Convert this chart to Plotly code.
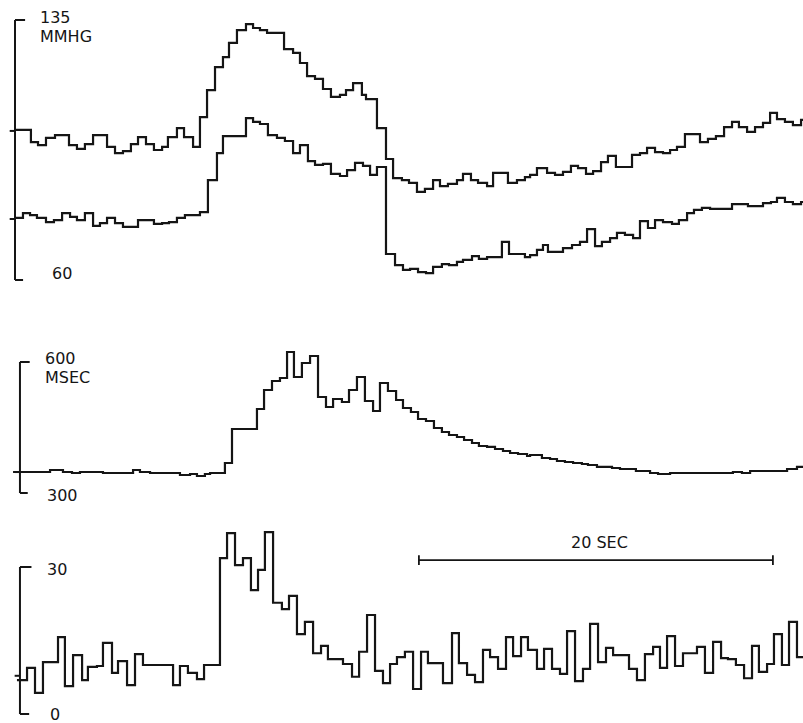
import plotly.graph_objects as go

# ---------------- data (time in seconds) ----------------
END_TIME = 44.52

sys_t = [0.0, 0.90, 1.30, 1.75, 2.26, 3.05, 3.50, 3.95, 4.41, 5.20, 5.65, 6.10, 6.55, 6.95, 7.40, 7.85,
         8.31, 8.64, 9.15, 9.55, 10.06, 10.45, 10.85, 11.30, 11.75, 12.09, 12.54, 13.05, 13.45, 13.84,
         14.24, 15.20, 15.71, 16.10, 16.50, 16.95, 17.40, 17.85, 18.36, 18.70, 19.10, 19.60, 19.83,
         20.45, 20.96, 21.36, 21.86, 22.26, 22.71, 23.16, 23.62, 24.01, 24.46, 24.97, 25.31, 25.76,
         26.16, 26.67, 27.01, 27.85, 28.36, 28.81, 29.10, 29.49, 30.06, 30.51, 30.96, 31.41, 31.81,
         32.26, 32.66, 33.11, 33.50, 33.95, 34.86, 35.31, 35.71, 36.16, 36.61, 37.01, 37.40, 37.85,
         38.70, 39.15, 39.60, 40.06, 40.51, 40.90, 41.36, 41.81, 42.26, 42.66, 43.05, 43.50, 43.95, 44.41]
sys_v = [103.3, 99.8, 98.9, 101.0, 101.8, 98.9, 97.8, 99.2, 101.8, 98.4, 96.6, 97.2, 99.2, 101.2, 99.2, 97.5,
         98.4, 101.2, 103.8, 101.2, 98.4, 107.0, 114.8, 121.4, 124.3, 128.4, 132.1, 133.8, 132.7, 132.1,
         131.3, 126.6, 125.5, 122.6, 118.8, 118.0, 115.1, 112.8, 113.4, 114.8, 116.8, 113.4, 112.2,
         103.8, 94.9, 89.4, 88.8, 88.0, 85.4, 86.3, 88.8, 87.1, 87.7, 88.8, 90.6, 88.8,
         88.0, 87.1, 90.9, 88.0, 88.8, 89.7, 90.3, 92.3, 90.9, 90.3, 91.2, 92.9, 92.3,
         90.6, 91.4, 94.0, 95.8, 92.6, 96.1, 96.6, 98.1, 96.9, 96.6, 97.5, 98.4, 102.1,
         99.8, 100.7, 101.5, 104.1, 105.6, 104.1, 102.7, 104.1, 105.3, 108.2, 106.4, 105.6, 104.7, 106.2]

dia_t = [0.0, 0.45, 0.85, 1.24, 1.75, 2.20, 2.66, 3.11, 3.50, 3.95, 4.41, 4.80, 5.20, 5.65, 6.10, 6.95,
         7.85, 8.31, 8.70, 9.15, 9.60, 10.45, 10.90, 11.41, 11.75, 13.05, 13.45, 13.84, 14.29, 14.80,
         15.25, 15.71, 16.10, 16.55, 16.95, 17.40, 17.85, 18.36, 18.76, 19.21, 19.66, 20.06, 20.45,
         20.96, 21.47, 21.92, 22.32, 22.77, 23.22, 23.62, 24.12, 24.52, 24.97, 25.31, 25.82, 26.21,
         26.67, 27.51, 27.91, 28.81, 29.10, 29.49, 29.83, 30.11, 30.96, 31.47, 31.92, 32.32, 32.77,
         33.16, 33.62, 34.01, 34.46, 34.92, 35.31, 35.76, 36.16, 36.61, 37.12, 37.51, 37.97, 38.36,
         38.81, 39.27, 40.51, 41.41, 42.26, 42.71, 43.05, 43.50, 43.95, 44.41]
dia_v = [77.9, 79.3, 78.7, 77.9, 76.7, 77.3, 79.3, 78.2, 77.3, 79.3, 75.6, 76.4, 77.9, 76.4, 75.3, 77.3,
         76.2, 76.4, 76.7, 77.9, 78.7, 79.6, 88.8, 96.6, 101.5, 106.7, 105.6, 105.0, 101.8, 101.0,
         100.1, 96.6, 98.9, 94.3, 93.2, 93.5, 90.6, 90.0, 91.7, 93.8, 92.9, 90.3, 92.6,
         67.5, 64.3, 62.9, 63.2, 62.3, 62.0, 63.8, 64.6, 64.3, 65.2, 65.8, 66.9, 66.1,
         66.6, 71.0, 67.5, 66.6, 67.2, 68.7, 70.1, 68.1, 69.2, 70.1, 71.0, 74.7, 69.8,
         71.0, 72.1, 73.6, 73.0, 72.1, 77.0, 75.0, 77.3, 76.7, 76.2, 77.3, 79.3, 80.2,
         80.8, 80.5, 81.9, 81.3, 82.2, 82.5, 83.7, 82.5, 81.9, 82.5]

rr_t = [-0.11, 1.98, 2.71, 3.22, 3.67, 4.97, 6.67, 7.06, 7.63, 9.32, 9.89, 10.28, 10.73, 11.02, 11.86,
        12.26, 13.67, 14.07, 14.52, 14.97, 15.37, 15.76, 16.21, 16.67, 17.12, 17.57, 17.97, 18.47,
        18.87, 19.32, 19.77, 20.23, 20.62, 21.07, 21.53, 21.92, 22.37, 22.77, 23.22, 23.67, 24.12,
        24.52, 24.97, 25.37, 25.82, 26.21, 26.67, 27.12, 27.57, 27.97, 28.42, 28.93, 29.10, 29.77,
        30.23, 30.62, 31.07, 31.53, 32.03, 32.37, 32.88, 33.73, 34.18, 35.08, 35.88, 36.33, 37.01,
        40.56, 41.07, 41.53, 43.62, 44.18]
rr_v = [348.1, 352.7, 348.1, 345.8, 348.1, 345.8, 352.7, 348.1, 345.8, 341.2, 343.5, 338.9, 343.5, 345.8, 368.7,
        446.6, 492.4, 535.9, 556.5, 563.4, 622.9, 565.6, 597.7, 613.7, 519.9, 496.9, 515.3, 508.4,
        535.9, 565.6, 510.7, 487.8, 551.9, 533.6, 513.0, 494.7, 485.5, 469.5, 464.9, 448.9, 439.7,
        432.8, 428.2, 421.4, 414.5, 407.6, 405.4, 400.8, 396.2, 391.6, 389.3, 384.7, 387.0, 380.2,
        377.9, 373.3, 371.0, 368.7, 366.4, 364.1, 359.6, 357.3, 355.0, 350.4, 345.8, 343.5, 345.8,
        348.1, 345.8, 350.4, 355.0, 359.6]

act_t = [0.11, 0.68, 1.13, 1.58, 2.43, 2.82, 3.28, 3.79, 4.12, 4.63, 4.97, 5.48, 5.82, 6.33, 6.78, 7.23,
         8.93, 9.32, 9.77, 10.28, 10.68, 11.58, 11.98, 12.43, 12.88, 13.33, 13.73, 14.12, 14.58,
         15.08, 15.48, 15.93, 16.38, 16.84, 17.29, 17.68, 18.53, 19.04, 19.44, 19.89, 20.34, 20.79,
         21.19, 21.58, 22.03, 22.49, 22.94, 23.33, 24.18, 24.69, 25.08, 25.54, 25.99, 26.44, 26.84,
         27.29, 27.74, 28.14, 28.59, 28.98, 29.49, 29.89, 30.34, 30.79, 31.19, 31.64, 32.09, 32.49,
         32.94, 33.39, 33.79, 34.69, 35.14, 35.59, 36.05, 36.44, 36.84, 37.29, 37.74, 38.53, 38.98,
         39.44, 39.89, 40.28, 40.73, 41.19, 41.64, 42.03, 42.49, 42.88, 43.33, 43.73, 44.18]
act_v = [6.9, 9.4, 4.3, 10.6, 15.7, 5.7, 12.0, 6.9, 9.6, 9.8, 14.5, 8.4, 10.8, 5.9, 12.2, 10.0,
         5.9, 9.8, 8.4, 7.1, 10.0, 31.8, 36.9, 30.4, 31.8, 25.3, 29.4, 37.1, 22.7,
         21.4, 24.1, 16.3, 18.8, 12.4, 13.9, 11.2, 10.2, 7.6, 12.7, 20.2, 8.8, 6.3,
         10.2, 11.6, 12.7, 5.1, 12.7, 10.4, 6.3, 16.5, 10.4, 8.0, 6.5, 13.1, 11.6,
         9.2, 15.7, 11.8, 15.7, 13.1, 9.2, 13.3, 9.2, 8.2, 16.9, 6.7, 9.2, 18.4,
         10.6, 13.5, 12.0, 9.2, 6.9, 12.2, 13.7, 9.4, 15.9, 9.8, 12.4, 13.7, 8.4,
         14.7, 11.4, 11.2, 10.0, 7.3, 13.9, 8.6, 10.2, 16.3, 10.0, 18.8, 11.6]

# axis calibration labels
P_TOP, P_BOT, P_UNIT = 135, 60, "MMHG"
P_BASE = [103.0, 77.6]
RR_TOP, RR_BOT, RR_UNIT = 600, 300, "MSEC"
RR_BASE = [348.0]
A_TOP, A_BOT = 30, 0
A_BASE = [7.8]
SCALE_START, SCALE_SEC, SCALE_LABEL = 22.82, 20, "20 SEC"

# ---------------- figure ----------------
INK = "#151515"
FONT = dict(family="DejaVu Sans", size=16, color=INK)


def ext(t, v):
    return list(t) + [END_TIME], list(v) + [v[-1]]


fig = go.Figure()
for (t, v, ya) in [(sys_t, sys_v, "y"), (dia_t, dia_v, "y"), (rr_t, rr_v, "y2"), (act_t, act_v, "y3")]:
    xx, yy = ext(t, v)
    fig.add_trace(go.Scatter(x=xx, y=yy, mode="lines", line=dict(shape="hv", color=INK, width=2.2),
                             xaxis="x", yaxis=ya, hoverinfo="skip", showlegend=False))

shapes = []


def bracket(yref, top, bot, x0, tick, bases, left):
    line = dict(color=INK, width=2)
    shapes.append(dict(type="line", xref="x", yref=yref, x0=x0, x1=x0, y0=bot, y1=top, line=line))
    shapes.append(dict(type="line", xref="x", yref=yref, x0=x0, x1=x0 + tick, y0=top, y1=top, line=line))
    shapes.append(dict(type="line", xref="x", yref=yref, x0=x0, x1=x0 + tick * 0.8, y0=bot, y1=bot, line=line))
    for b in bases:
        shapes.append(dict(type="line", xref="x", yref=yref, x0=x0 - left, x1=x0, y0=b, y1=b, line=line))


bracket("y", P_TOP, P_BOT, 0.0, 0.57, P_BASE, 0.3)
bracket("y2", RR_TOP, RR_BOT, 0.28, 0.55, RR_BASE, 0.3)
bracket("y3", A_TOP, A_BOT, 0.28, 0.65, A_BASE, 0.3)

# scale bar
sb_y = 31.4
shapes.append(dict(type="line", xref="x", yref="y3", x0=SCALE_START, x1=SCALE_START + SCALE_SEC,
                   y0=sb_y, y1=sb_y, line=dict(color=INK, width=1.8)))
for xe in (SCALE_START, SCALE_START + SCALE_SEC):
    shapes.append(dict(type="line", xref="x", yref="y3", x0=xe, x1=xe, y0=sb_y - 1.0, y1=sb_y + 1.0,
                       line=dict(color=INK, width=1.8)))

ann = []


def label(text, x, y, yref):
    ann.append(dict(text=text, x=x, y=y, xref="x", yref=yref, xanchor="left", yanchor="middle",
                    showarrow=False, font=FONT))


label(str(P_TOP), 1.30, 135.6, "y")
label(P_UNIT, 1.30, 130.2, "y")
label(str(P_BOT), 1.98, 62.0, "y")
label(str(RR_TOP), 1.60, 609, "y2")
label(RR_UNIT, 1.60, 564, "y2")
label(str(RR_BOT), 1.72, 295, "y2")
label(str(A_TOP), 1.72, 29.4, "y3")
label(str(A_BOT), 1.85, 0.0, "y3")
ann.append(dict(text=SCALE_LABEL, x=SCALE_START + SCALE_SEC / 2 + 0.2, y=35.1, xref="x", yref="y3",
                xanchor="center", yanchor="middle", showarrow=False, font=FONT))

hidden = dict(visible=False, fixedrange=True)
fig.update_layout(
    width=803, height=723,
    margin=dict(l=0, r=0, t=0, b=0),
    paper_bgcolor="white", plot_bgcolor="white",
    xaxis=dict(range=[-0.8475, 44.52], domain=[0, 1], **hidden),
    yaxis=dict(range=[54.23, 140.77], domain=[0.58506, 1.0], anchor="x", **hidden),
    yaxis2=dict(range=[261.07, 673.28], domain=[0.29461, 0.54357], anchor="x", **hidden),
    yaxis3=dict(range=[-1.837, 37.55], domain=[0.0, 0.26694], anchor="x", **hidden),
    shapes=shapes, annotations=ann, showlegend=False,
)

fig.write_html("out.html", config=dict(displayModeBar=False, staticPlot=True),
               post_script="document.body.style.margin='0px';document.body.style.overflow='hidden';")
